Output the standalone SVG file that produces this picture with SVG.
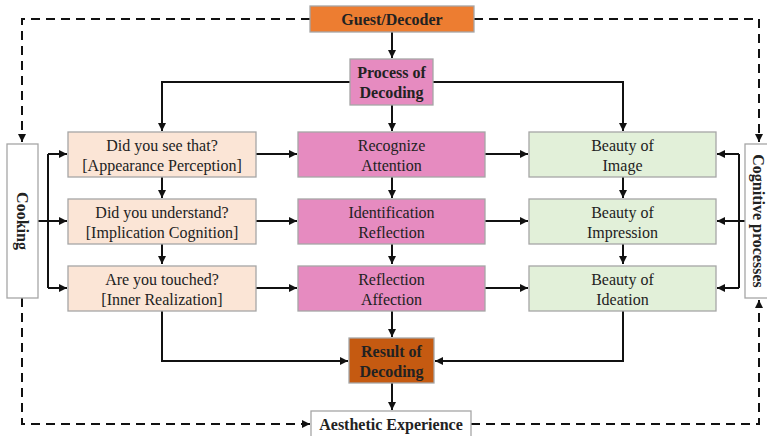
<svg xmlns="http://www.w3.org/2000/svg" width="767" height="436" viewBox="0 0 767 436">
<style>
.box{stroke:#a6a6a6;stroke-width:1.3}
.t{font-family:"Liberation Serif",serif;font-size:16px;fill:#222;text-anchor:middle}
.b{font-weight:bold}
.ln{fill:none;stroke:#111;stroke-width:2}
.dash{fill:none;stroke:#111;stroke-width:2;stroke-dasharray:9,6}
</style>
<defs>
<marker id="ah" viewBox="0 0 10 10" refX="10" refY="5" markerWidth="4" markerHeight="4" orient="auto" markerUnits="strokeWidth">
<path d="M0,0 L10,5 L0,10 z" fill="#111"/>
</marker>
</defs>
<rect width="767" height="436" fill="#fff"/>
<g id="connectors">
<!-- dashed feedback loops -->
<path class="dash" d="M310,19 H22 V142" marker-end="url(#ah)"/>
<path class="dash" d="M474,19 H759 V142" marker-end="url(#ah)"/>
<path class="dash" d="M22,298 V424 H310" marker-end="url(#ah)"/>
<path class="dash" d="M471,424 H759 V300" marker-end="url(#ah)"/>
<!-- top -->
<path class="ln" d="M392,32 V58" marker-end="url(#ah)"/>
<path class="ln" d="M350,82 H162 V131" marker-end="url(#ah)"/>
<path class="ln" d="M433,82 H623 V131" marker-end="url(#ah)"/>
<path class="ln" d="M392,105 V131" marker-end="url(#ah)"/>
<!-- cooking bus -->
<path class="ln" d="M38,221 H48"/>
<path class="ln" d="M48,154 V288"/>
<path class="ln" d="M48,154 H67" marker-end="url(#ah)"/>
<path class="ln" d="M48,221 H67" marker-end="url(#ah)"/>
<path class="ln" d="M48,288 H67" marker-end="url(#ah)"/>
<!-- cognitive bus -->
<path class="ln" d="M745,221 H739"/>
<path class="ln" d="M739,154 V288"/>
<path class="ln" d="M739,154 H717" marker-end="url(#ah)"/>
<path class="ln" d="M739,221 H717" marker-end="url(#ah)"/>
<path class="ln" d="M739,288 H717" marker-end="url(#ah)"/>
<!-- row horizontals -->
<path class="ln" d="M256,154 H297" marker-end="url(#ah)"/>
<path class="ln" d="M256,221 H297" marker-end="url(#ah)"/>
<path class="ln" d="M256,288 H297" marker-end="url(#ah)"/>
<path class="ln" d="M485,154 H528" marker-end="url(#ah)"/>
<path class="ln" d="M485,221 H528" marker-end="url(#ah)"/>
<path class="ln" d="M485,288 H528" marker-end="url(#ah)"/>
<!-- column verticals -->
<path class="ln" d="M162,177 V198" marker-end="url(#ah)"/>
<path class="ln" d="M162,244 V264" marker-end="url(#ah)"/>
<path class="ln" d="M392,177 V198" marker-end="url(#ah)"/>
<path class="ln" d="M392,244 V264" marker-end="url(#ah)"/>
<path class="ln" d="M623,177 V198" marker-end="url(#ah)"/>
<path class="ln" d="M623,244 V264" marker-end="url(#ah)"/>
<!-- bottom -->
<path class="ln" d="M392,311 V337" marker-end="url(#ah)"/>
<path class="ln" d="M162,311 V361 H348" marker-end="url(#ah)"/>
<path class="ln" d="M623,311 V361 H435" marker-end="url(#ah)"/>
<path class="ln" d="M392,383 V410" marker-end="url(#ah)"/>
</g>
<g id="guest">
<rect class="box" x="310" y="6" width="164" height="26" fill="#ED7D31"/>
<text class="t b" x="392" y="25">Guest/Decoder</text>
</g>
<g id="process">
<rect class="box" x="350" y="59" width="83" height="46" fill="#E68BC0"/>
<text class="t b" x="391.5" y="78">Process of</text>
<text class="t b" x="391.5" y="98">Decoding</text>
</g>
<g id="cooking">
<rect class="box" x="7" y="144" width="31" height="154" fill="#fff"/>
<text class="t b" transform="translate(22,221) rotate(90)" y="5.5">Cooking</text>
</g>
<g id="cognitive">
<rect class="box" x="745" y="144" width="30" height="154" fill="#fff"/>
<text class="t b" transform="translate(758,221) rotate(90)" y="5.5">Cognitive processes</text>
</g>
<g id="see">
<rect class="box" x="68" y="132" width="188" height="45" fill="#FBE5D6"/>
<text class="t" x="162" y="151">Did you see that?</text>
<text class="t" x="162" y="171">[Appearance Perception]</text>
</g>
<g id="understand">
<rect class="box" x="68" y="199" width="188" height="45" fill="#FBE5D6"/>
<text class="t" x="162" y="218">Did you understand?</text>
<text class="t" x="162" y="238">[Implication Cognition]</text>
</g>
<g id="touched">
<rect class="box" x="68" y="266" width="188" height="45" fill="#FBE5D6"/>
<text class="t" x="162" y="285">Are you touched?</text>
<text class="t" x="162" y="305">[Inner Realization]</text>
</g>
<g id="recognize">
<rect class="box" x="298" y="132" width="187" height="45" fill="#E68BC0"/>
<text class="t" x="391.5" y="151">Recognize</text>
<text class="t" x="391.5" y="171">Attention</text>
</g>
<g id="identification">
<rect class="box" x="298" y="199" width="187" height="45" fill="#E68BC0"/>
<text class="t" x="391.5" y="218">Identification</text>
<text class="t" x="391.5" y="238">Reflection</text>
</g>
<g id="reflection">
<rect class="box" x="298" y="266" width="187" height="45" fill="#E68BC0"/>
<text class="t" x="391.5" y="285">Reflection</text>
<text class="t" x="391.5" y="305">Affection</text>
</g>
<g id="image">
<rect class="box" x="529" y="132" width="187" height="45" fill="#E2F0D9"/>
<text class="t" x="622.5" y="151">Beauty of</text>
<text class="t" x="622.5" y="171">Image</text>
</g>
<g id="impression">
<rect class="box" x="529" y="199" width="187" height="45" fill="#E2F0D9"/>
<text class="t" x="622.5" y="218">Beauty of</text>
<text class="t" x="622.5" y="238">Impression</text>
</g>
<g id="ideation">
<rect class="box" x="529" y="266" width="187" height="45" fill="#E2F0D9"/>
<text class="t" x="622.5" y="285">Beauty of</text>
<text class="t" x="622.5" y="305">Ideation</text>
</g>
<g id="result">
<rect class="box" x="349" y="338" width="85" height="45" fill="#C55A11"/>
<text class="t b" x="391.5" y="357">Result of</text>
<text class="t b" x="391.5" y="377">Decoding</text>
</g>
<g id="aesthetic">
<rect class="box" x="311" y="411" width="160" height="30" fill="#fff"/>
<text class="t b" x="391" y="430">Aesthetic Experience</text>
</g>
</svg>
